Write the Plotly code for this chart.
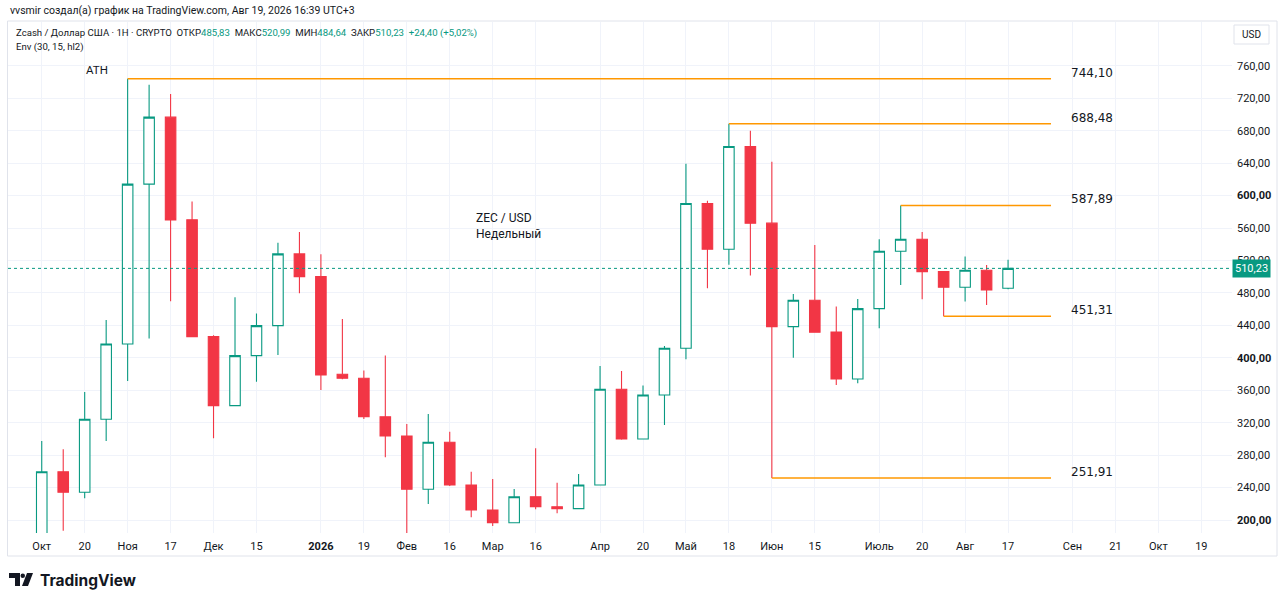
import pandas as pd
import plotly.graph_objects as go

# ZEC / USD weekly candles (TradingView screenshot), Oct 2025 - Aug 2026

weeks = pd.date_range("2025-10-06", periods=46, freq="7D")

opens = [180.0, 259.6, 234.2, 324.2, 417.1, 614.1, 696.7, 570.1, 426.1, 341.0,
         402.7, 439.7, 528.1, 500.1, 379.7, 374.8, 327.4, 303.6, 237.9, 295.8,
         243.2, 212.3, 196.7, 228.7, 216.4, 214.0, 243.2, 361.2, 299.9, 354.2,
         411.8, 590.2, 533.9, 660.5, 566.0, 438.4, 471.0, 431.9, 373.9, 460.6,
         531.4, 546.2, 506.3, 487.0, 508.0, 485.83]
highs = [297.4, 287.2, 357.9, 446.7, 744.10, 736.6, 725.1, 592.6, 427.8, 474.7,
         454.6, 541.7, 555.2, 527.7, 447.9, 384.2, 402.7, 318.4, 330.8, 308.9,
         259.6, 250.6, 238.2, 288.4, 246.0, 256.7, 389.9, 383.8, 365.7, 414.6,
         639.1, 593.5, 688.48, 679.8, 641.6, 478.8, 539.2, 463.1, 472.6, 546.2,
         587.89, 555.2, 506.3, 524.8, 514.5, 520.99]
lows = [176.0, 186.8, 226.7, 297.4, 371.5, 423.7, 469.7, 425.4, 300.7, 341.0,
        370.6, 403.5, 479.6, 360.4, 373.5, 324.6, 277.3, 183.0, 219.7, 241.9,
        203.3, 192.6, 196.7, 213.2, 208.2, 214.0, 243.2, 299.0, 299.9, 317.2,
        398.2, 485.8, 514.6, 501.4, 251.91, 400.2, 431.5, 366.5, 368.6, 436.4,
        489.9, 472.2, 451.31, 469.3, 465.2, 484.64]
closes = [259.6, 234.2, 324.2, 417.1, 614.1, 696.7, 570.1, 426.1, 341.0, 402.7,
          439.7, 528.1, 500.1, 378.9, 374.8, 327.4, 303.6, 237.9, 295.8, 243.2,
          212.3, 196.7, 228.7, 216.4, 214.0, 243.2, 361.2, 299.9, 354.2, 411.8,
          590.2, 533.9, 660.5, 566.0, 438.4, 471.0, 431.5, 373.9, 460.6, 531.4,
          546.2, 506.3, 487.0, 508.0, 483.7, 510.23]

# horizontal levels drawn on the chart
level_prices = [744.10, 688.48, 587.89, 451.31, 251.91]
level_starts = ["2025-11-03", "2026-05-18", "2026-07-13", "2026-07-27", "2026-06-01"]
level_end = "2026-08-31"

last_price = 510.23

price_ticks = [200, 240, 280, 320, 360, 400, 440, 480, 520, 560, 600, 640, 680, 720, 760]
time_ticks = ["2025-10-06", "2025-10-20", "2025-11-03", "2025-11-17", "2025-12-01",
              "2025-12-15", "2026-01-05", "2026-01-19", "2026-02-02", "2026-02-16",
              "2026-03-02", "2026-03-16", "2026-04-06", "2026-04-20", "2026-05-04",
              "2026-05-18", "2026-06-01", "2026-06-15", "2026-07-06", "2026-07-20",
              "2026-08-03", "2026-08-17", "2026-09-07", "2026-09-21", "2026-10-05",
              "2026-10-19"]
time_labels = ["Окт", "20", "Ноя", "17", "Дек", "15", "<b>2026</b>", "19", "Фев", "16",
               "Мар", "16", "Апр", "20", "Май", "18", "Июн", "15", "Июль", "20",
               "Авг", "17", "Сен", "21", "Окт", "19"]

UP = "#089981"
DOWN = "#F23645"
ORANGE = "#FF9800"
TXT = "#131722"
GRID = "#F0F3FA"
FONT = "Roboto"

# pixel -> paper helpers (plot area is x 8..1232, y 22..533)
def px(x):
    return (x - 8) / 1224

def py(y):
    return (533 - y) / 511

def fmt(v):
    return f"{v:.2f}".replace(".", ",")


fig = go.Figure()

fig.add_trace(go.Candlestick(
    x=weeks, open=opens, high=highs, low=lows, close=closes,
    increasing=dict(line=dict(color=UP, width=1.1), fillcolor="#FFFFFF"),
    decreasing=dict(line=dict(color=DOWN, width=1.1), fillcolor=DOWN),
    whiskerwidth=0, hoverinfo="skip", showlegend=False,
))

shapes = []
annotations = []

# levels + their labels
for p, start in zip(level_prices, level_starts):
    shapes.append(dict(type="line", xref="x", yref="y", x0=start, x1=level_end,
                       y0=p, y1=p, line=dict(color=ORANGE, width=1.5)))
    annotations.append(dict(x="2026-09-06", y=p, xref="x", yref="y", text=fmt(p),
                            showarrow=False, xanchor="left", yanchor="middle", yshift=6,
                            font=dict(size=12, color=TXT, family="DejaVu Sans")))

# last price dotted line + badge
shapes.append(dict(type="line", xref="paper", yref="y", x0=0, x1=1,
                   y0=last_price, y1=last_price,
                   line=dict(color=UP, width=1, dash="dot")))
annotations.append(dict(x=px(1232), y=last_price, xref="paper", yref="y",
                        text=fmt(last_price), showarrow=False, xanchor="left",
                        yanchor="middle", bgcolor=UP, borderpad=2,
                        font=dict(size=11, color="#FFFFFF", family=FONT)))

annotations.append(dict(x="2025-10-24", y=744.10, xref="x", yref="y", text="ATH",
                        showarrow=False, xanchor="center", yanchor="middle", yshift=9,
                        font=dict(size=11.5, color=TXT, family=FONT)))
annotations.append(dict(x="2026-02-24", y=563, xref="x", yref="y",
                        text="ZEC / USD<br>Недельный", showarrow=False,
                        xanchor="left", yanchor="middle", align="left",
                        font=dict(size=12, color=TXT, family=FONT)))

# header texts
annotations.append(dict(x=px(8), y=py(11), xref="paper", yref="paper",
                        xanchor="left", yanchor="middle",
                        text="vvsmir создал(а) график на TradingView.com, Авг 19, 2026 16:39 UTC+3",
                        showarrow=False, font=dict(size=10.5, color=TXT, family=FONT)))
g = lambda s: f"<span style='color:{UP}'>{s}</span>"
legend_txt = ("Zcash / Доллар США · 1Н · CRYPTO&nbsp; ОТКР" + g("485,83") + "&nbsp; МАКС"
              + g("520,99") + "&nbsp; МИН" + g("484,64") + "&nbsp; ЗАКР" + g("510,23")
              + "&nbsp; " + g("+24,40 (+5,02%)"))
annotations.append(dict(x=px(14), y=py(33), xref="paper", yref="paper",
                        xanchor="left", yanchor="middle",
                        text=legend_txt, showarrow=False,
                        font=dict(size=9.6, color=TXT, family=FONT)))
annotations.append(dict(x=px(14), y=py(47), xref="paper", yref="paper",
                        xanchor="left", yanchor="middle",
                        text="Env (30, 15, hl2)", showarrow=False,
                        font=dict(size=9.6, color=TXT, family=FONT)))

# USD box
shapes.append(dict(type="rect", xref="paper", yref="paper", x0=px(1234), x1=px(1269),
                   y0=py(44), y1=py(25), line=dict(color="#E0E3EB", width=1),
                   fillcolor="#FFFFFF"))
annotations.append(dict(x=px(1251.5), y=py(34.5), xref="paper", yref="paper", text="USD",
                        xanchor="center", yanchor="middle",
                        showarrow=False, font=dict(size=10, color=TXT, family=FONT)))

# panel border
shapes.append(dict(type="rect", xref="paper", yref="paper", x0=px(7.5), x1=px(1277),
                   y0=py(556), y1=py(21), line=dict(color="#E0E3EB", width=1),
                   layer="below"))

# TradingView logo
def poly(pts):
    return "M " + " L ".join(f"{px(a)},{py(b)}" for a, b in pts) + " Z"

for pts in [[(9, 573), (20, 573), (20, 586), (15, 586), (15, 578), (9, 578)],
            [(27, 573), (33, 573), (28, 586), (22, 586)]]:
    shapes.append(dict(type="path", xref="paper", yref="paper", path=poly(pts),
                       fillcolor=TXT, line=dict(width=0)))
shapes.append(dict(type="circle", xref="paper", yref="paper", x0=px(20.5), x1=px(25),
                   y0=py(578), y1=py(573.5), fillcolor=TXT, line=dict(width=0)))
annotations.append(dict(x=px(38), y=py(580), xref="paper", yref="paper",
                        xanchor="left", yanchor="middle",
                        text="<b>TradingView</b>", showarrow=False,
                        font=dict(size=15.5, color=TXT, family="Inter")))

fig.update_layout(
    template="none",
    width=1280, height=604,
    margin=dict(l=8, r=48, t=22, b=71),
    paper_bgcolor="#FFFFFF", plot_bgcolor="#FFFFFF",
    font=dict(family=FONT, color=TXT, size=11),
    shapes=shapes, annotations=annotations,
    showlegend=False, hovermode=False,
    xaxis=dict(type="date", range=["2025-09-25", "2026-10-29"],
               tickvals=time_ticks, ticktext=time_labels, automargin=False,
               showgrid=True, gridcolor=GRID, zeroline=False, showline=False,
               rangeslider=dict(visible=False), ticks="",
               tickfont=dict(size=11, color=TXT), ticklabelstandoff=5),
    yaxis=dict(side="right", range=[184, 814], tickvals=price_ticks, automargin=False,
               ticktext=[f"<b>{fmt(v)}</b>" if v % 200 == 0 else fmt(v) for v in price_ticks],
               showgrid=True, gridcolor=GRID, zeroline=False, showline=False, ticks="",
               tickfont=dict(size=11, color=TXT), ticklabelstandoff=4),
)

fig.write_html("out.html", config={"displayModeBar": False},
               post_script="document.body.style.margin='0';")
